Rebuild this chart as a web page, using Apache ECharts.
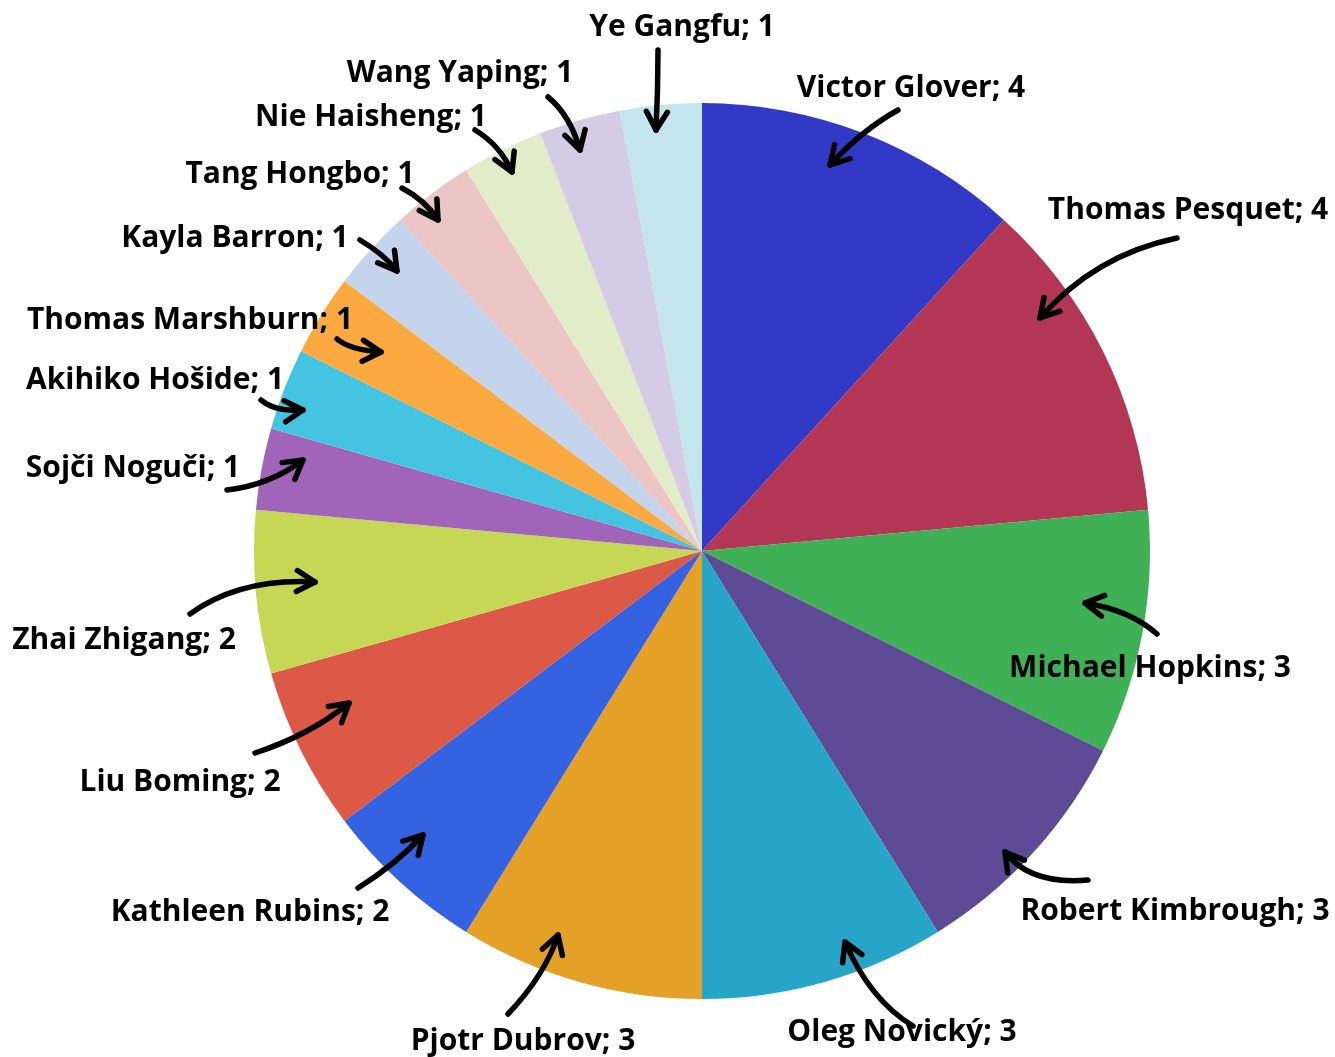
<!DOCTYPE html>
<html>
<head>
<meta charset="utf-8">
<style>
  html, body { margin: 0; padding: 0; background: #fff; }
  #chart { width: 1335px; height: 1057px; }
</style>
<script src="https://cdn.jsdelivr.net/npm/echarts@6/dist/echarts.min.js"></script>
</head>
<body>
<div id="chart"></div>
<script>
// Astronaut names and their counts, clockwise from 12 o'clock
const names = [
  'Victor Glover', 'Thomas Pesquet', 'Michael Hopkins', 'Robert Kimbrough',
  'Oleg Novický', 'Pjotr Dubrov', 'Kathleen Rubins', 'Liu Boming',
  'Zhai Zhigang', 'Sojči Noguči', 'Akihiko Hošide', 'Thomas Marshburn',
  'Kayla Barron', 'Tang Hongbo', 'Nie Haisheng', 'Wang Yaping', 'Ye Gangfu'
];
const counts = [4, 4, 3, 3, 3, 3, 2, 2, 2, 1, 1, 1, 1, 1, 1, 1, 1];

// Slice colours
const colors = [
  '#3239c7', '#b33654', '#40b056', '#5d4b95',
  '#26a5c8', '#e5a028', '#3462e0', '#dc5847',
  '#c6d755', '#a064b8', '#44c4e0', '#fbaa42',
  '#c4d4ec', '#ecc5c5', '#e2ecc9', '#d4cbe4', '#c4e4ee'
];

// Label anchor points (centre of each text line)
const labelPos = [
  [911, 88], [1188, 210], [1150, 668], [1175, 911],
  [902, 1032], [523, 1041], [250, 912], [180, 782],
  [124, 640], [133, 468], [155, 380], [190, 320],
  [235, 238], [300, 174], [371, 117], [460, 73], [682, 27]
];

// Hand-drawn pointer arrows: tail, control point, tip
const arrows = [
  [898, 110, 862, 130, 830, 165],
  [1177, 238, 1095, 255, 1040, 318],
  [1157, 634, 1130, 610, 1085, 603],
  [1088, 880, 1030, 885, 1005, 852],
  [913, 1026, 870, 1000, 845, 942],
  [508, 1014, 545, 975, 558, 935],
  [358, 888, 395, 865, 423, 835],
  [255, 753, 310, 735, 349, 703],
  [190, 614, 240, 578, 315, 582],
  [227, 490, 270, 485, 303, 460],
  [261, 400, 275, 412, 303, 410],
  [337, 339, 350, 350, 381, 352],
  [360, 240, 385, 255, 397, 271],
  [402, 188, 425, 200, 438, 220],
  [475, 130, 500, 145, 512, 172],
  [548, 97, 570, 115, 580, 150],
  [658, 50, 658, 90, 656, 130]
];

const pieData = names.map((n, i) => ({
  name: n,
  value: counts[i],
  itemStyle: { color: colors[i] }
}));

// Build arrow graphics (curved shaft + open arrowhead)
const graphics = [];
const headLen = 21, headAng = 30 * Math.PI / 180;
arrows.forEach(a => {
  const [x1, y1, cx, cy, x2, y2] = a;
  graphics.push({
    type: 'bezierCurve',
    shape: { x1: x1, y1: y1, cpx1: cx, cpy1: cy, x2: x2, y2: y2 },
    style: { stroke: '#000', lineWidth: 5.5, fill: null, lineCap: 'round' },
    silent: true, z: 10
  });
  const ang = Math.atan2(y2 - cy, x2 - cx);
  const w1 = [x2 - headLen * Math.cos(ang - headAng), y2 - headLen * Math.sin(ang - headAng)];
  const w2 = [x2 - headLen * Math.cos(ang + headAng), y2 - headLen * Math.sin(ang + headAng)];
  graphics.push({
    type: 'polyline',
    shape: { points: [w1, [x2, y2], w2] },
    style: { stroke: '#000', lineWidth: 5.5, fill: null, lineCap: 'round', lineJoin: 'round' },
    silent: true, z: 10
  });
});

const chart = echarts.init(document.getElementById('chart'), null, { renderer: 'canvas' });
chart.setOption({
  backgroundColor: '#ffffff',
  animation: false,
  series: [{
    type: 'pie',
    center: [702, 551],
    radius: 448,
    startAngle: 90,
    clockwise: true,
    avoidLabelOverlap: false,
    itemStyle: { borderWidth: 0 },
    label: {
      show: true,
      position: 'outside',
      formatter: '{b}; {c}',
      color: '#000',
      fontFamily: 'Open Sans',
      fontWeight: 'bold',
      fontSize: 30
    },
    labelLine: { show: false },
    labelLayout: function (params) {
      const p = labelPos[params.dataIndex];
      return { x: p[0], y: p[1], align: 'center', verticalAlign: 'middle', hideOverlap: false };
    },
    emphasis: { disabled: true },
    data: pieData,
    z: 2
  }],
  graphic: graphics
});
</script>
</body>
</html>
